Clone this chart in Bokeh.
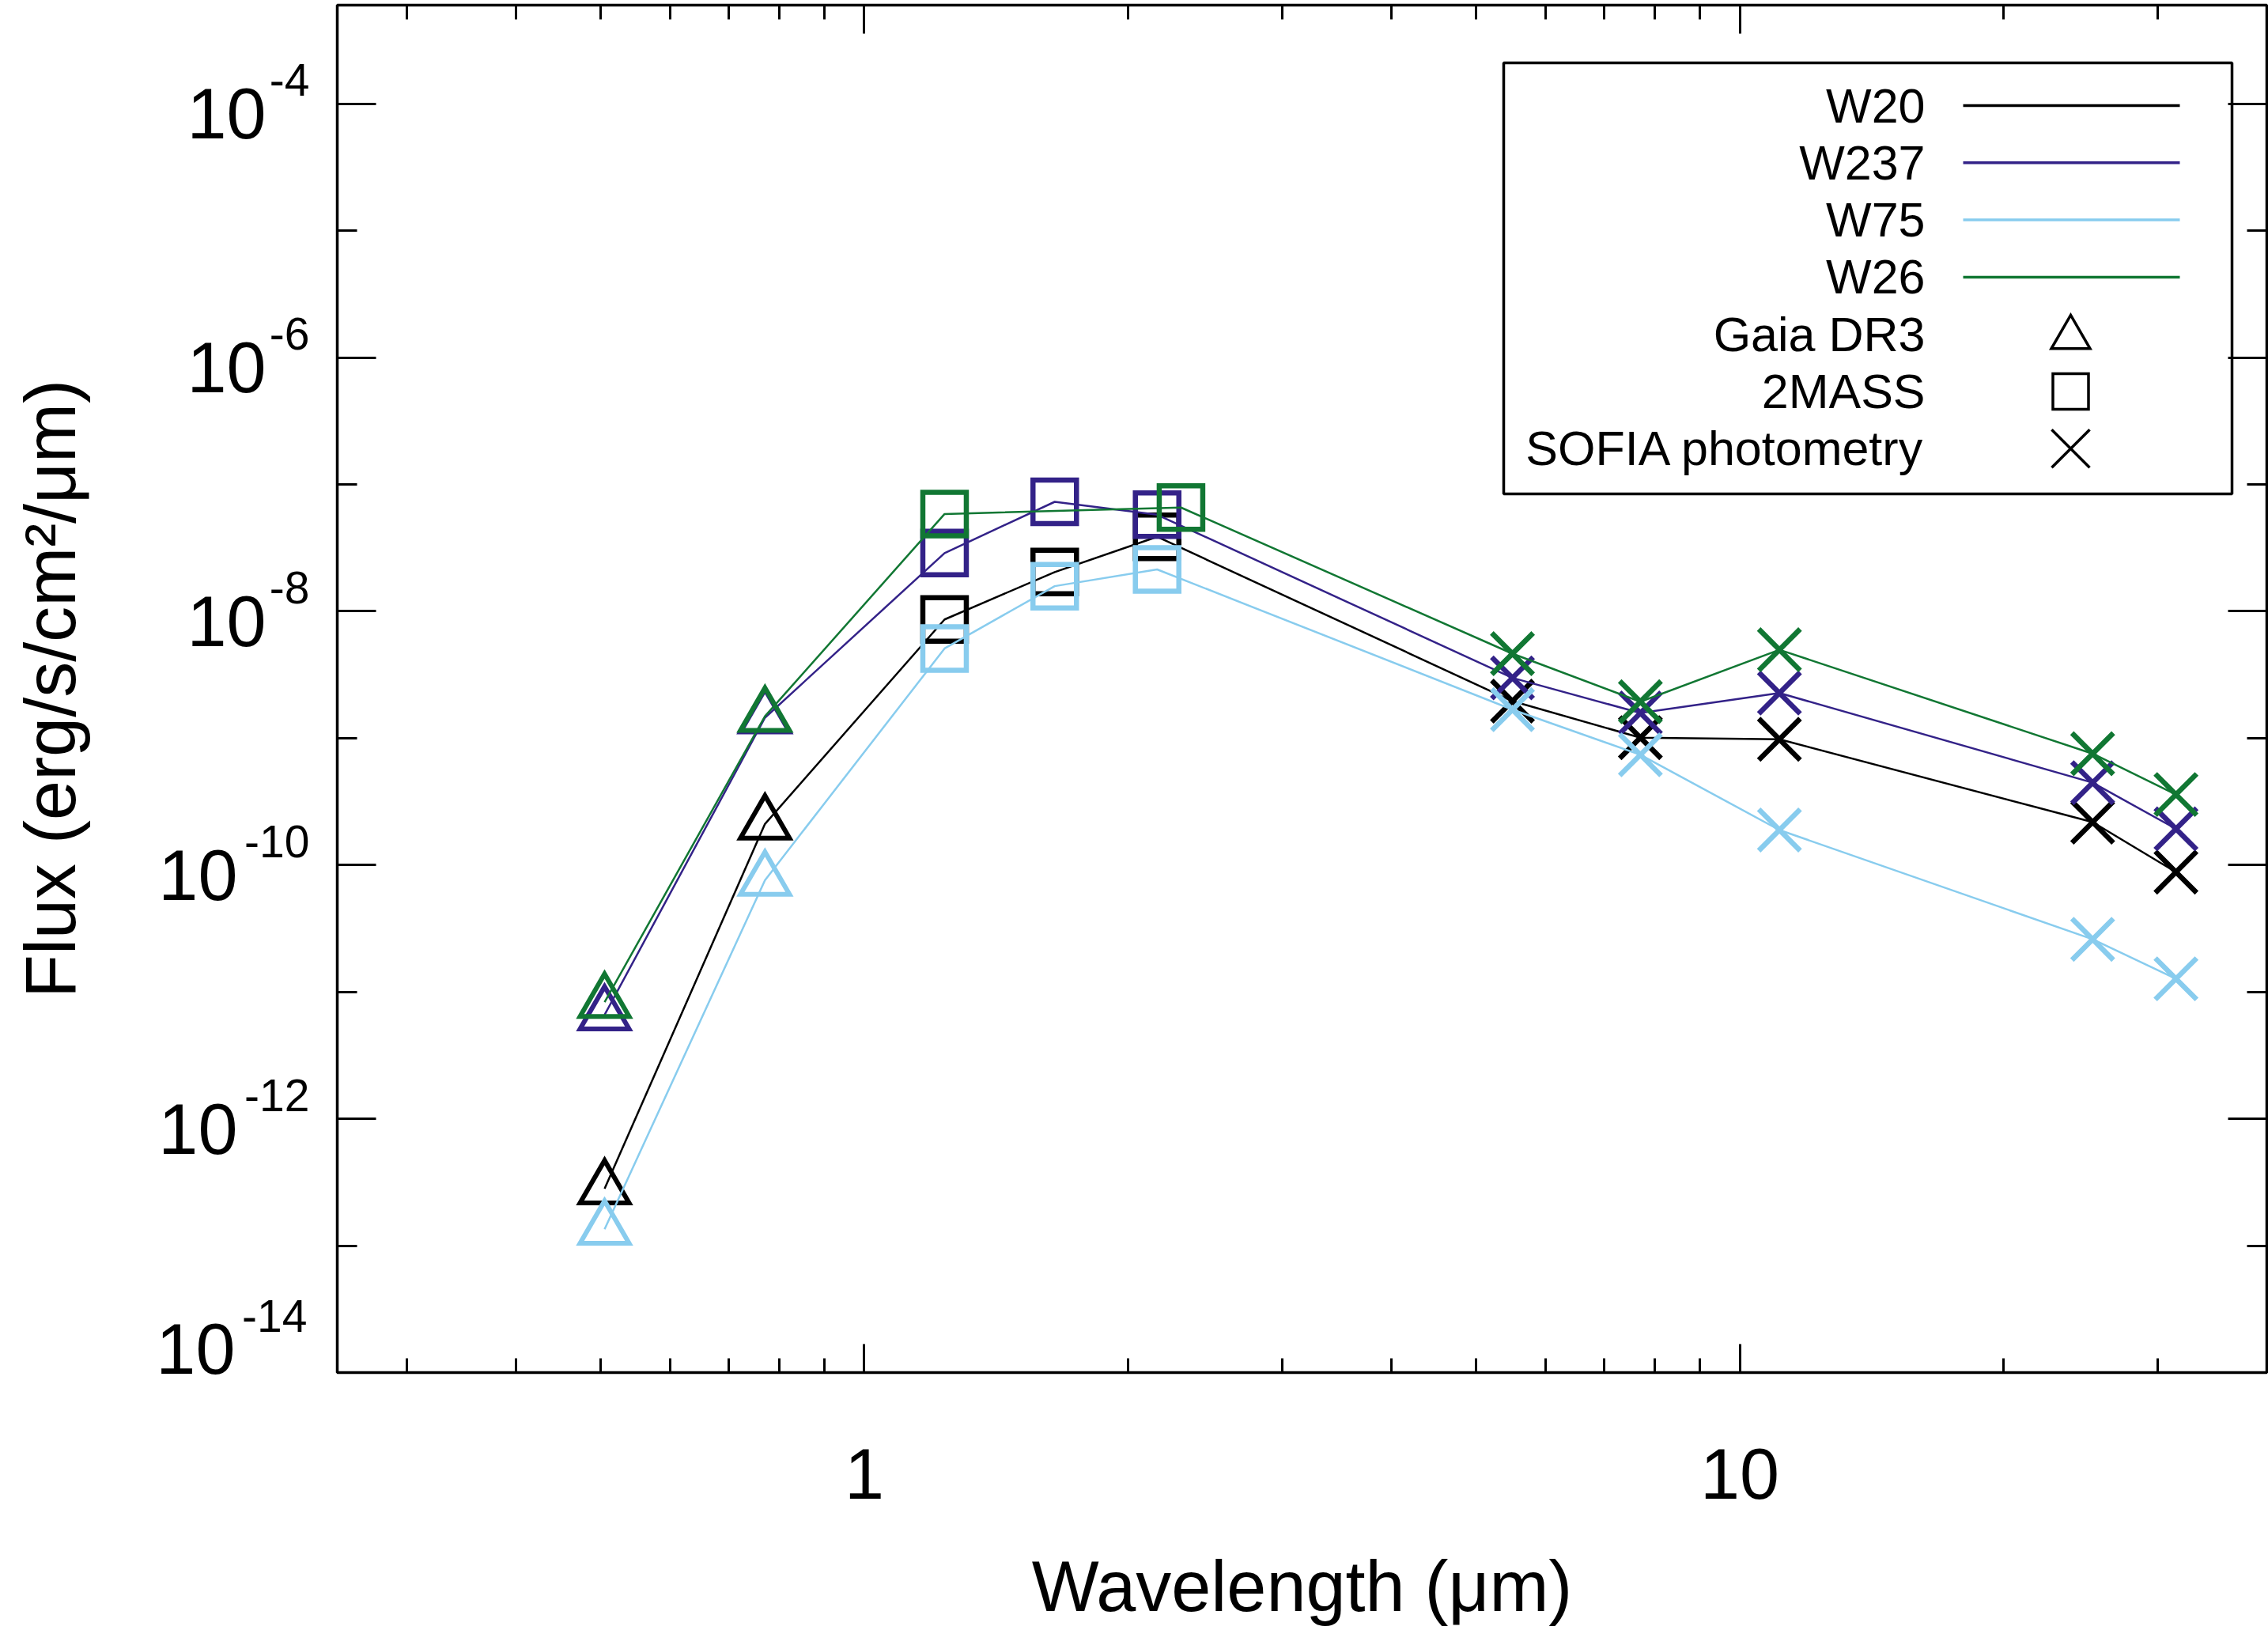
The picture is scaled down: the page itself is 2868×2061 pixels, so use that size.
import math
from bokeh.plotting import figure
from bokeh.models import Range1d, FixedTicker, LogAxis, LogScale
from bokeh.core.properties import value
from bokeh.embed import file_html
from bokeh.resources import INLINE

# ---------------- data ----------------
gaia_wl = [0.505, 0.77]
tmass_wl = [1.235, 1.65, 2.16]
tmass_wl_w26 = [1.235, 2.3]
sofia_wl = [5.5, 7.7, 11.1, 25.3, 31.5]

series_names = ["W20", "W237", "W75", "W26"]
series_colors = ["#000000", "#332288", "#88CCEE", "#117733"]

w20_gaia = [2.81e-13, 2.11e-10]
w20_2mass = [8.63e-9, 2.04e-8, 3.87e-8]
w20_sofia = [1.96e-9, 1.01e-9, 9.8e-10, 2.18e-10, 8.8e-11]

w237_gaia = [6.6e-12, 1.45e-9]
w237_2mass = [2.88e-8, 7.3e-8, 5.78e-8]
w237_sofia = [2.99e-9, 1.58e-9, 2.27e-9, 4.46e-10, 1.93e-10]

w75_gaia = [1.35e-13, 7.6e-11]
w75_2mass = [5.1e-9, 1.58e-8, 2.14e-8]
w75_sofia = [1.68e-9, 7.4e-10, 1.89e-10, 2.6e-11, 1.27e-11]

w26_gaia = [8.3e-12, 1.49e-9]
w26_2mass = [5.85e-8, 6.58e-8]
w26_sofia = [4.64e-9, 1.94e-9, 4.98e-9, 7.55e-10, 3.6e-10]

y_major = [1e-14, 1e-12, 1e-10, 1e-8, 1e-6, 1e-4]
y_major_exp = ["-14", "-12", "-10", "-8", "-6", "-4"]
y_minor = [1e-13, 1e-11, 1e-9, 1e-7, 1e-5]
x_major = [1, 10]
x_major_labels = ["1", "10"]
x_minor = [0.3, 0.4, 0.5, 0.6, 0.7, 0.8, 0.9, 2, 3, 4, 5, 6, 7, 8, 9, 20, 30]

legend_sources = ["Gaia DR3", "2MASS", "SOFIA photometry"]
legend_markers = ["triangle", "square", "x"]

series = [
    (gaia_wl, w20_gaia, tmass_wl, w20_2mass, sofia_wl, w20_sofia),
    (gaia_wl, w237_gaia, tmass_wl, w237_2mass, sofia_wl, w237_sofia),
    (gaia_wl, w75_gaia, tmass_wl, w75_2mass, sofia_wl, w75_sofia),
    (gaia_wl, w26_gaia, tmass_wl_w26, w26_2mass, sofia_wl, w26_sofia),
]

# ---------------- layout ----------------
W, H = 2868, 2061
FL, FR, FT, FB = 426, 2866, 6, 1735
XMIN, XMAX = 0.25, 40
YMIN, YMAX = 1e-14, 6e-4
FONT = "Liberation Sans"
DECADE_PX = (FB - FT) / (math.log10(YMAX) - math.log10(YMIN))

p = figure(width=W, height=H, x_axis_type="log", y_axis_type="log",
           x_range=Range1d(XMIN, XMAX), y_range=Range1d(YMIN, YMAX),
           output_backend="svg", toolbar_location=None,
           min_border_left=FL, min_border_right=W - FR,
           min_border_top=FT, min_border_bottom=H - FB)
p.grid.visible = False
p.outline_line_color = "black"
p.outline_line_width = 3.5
p.background_fill_color = "white"
p.border_fill_color = "white"


def style_axis(ax, ticks, minor, major_len, minor_len, labels=None):
    ax.ticker = FixedTicker(ticks=ticks, minor_ticks=minor)
    ax.axis_line_color = None
    ax.major_tick_in = major_len
    ax.major_tick_out = 0
    ax.minor_tick_in = minor_len
    ax.minor_tick_out = 0
    ax.major_tick_line_width = 3
    ax.minor_tick_line_width = 3
    ax.major_tick_line_color = "black"
    ax.minor_tick_line_color = "black"
    if labels is None:
        ax.major_label_overrides = {float(t): " " for t in ticks}
        ax.major_label_text_font_size = "2px"
        ax.major_label_text_alpha = 0
        ax.major_label_standoff = 0
    else:
        ax.major_label_overrides = {float(t): s for t, s in zip(ticks, labels)}
        ax.major_label_text_font = FONT
        ax.major_label_text_color = "black"


def label_axis(range_name, ticks, labels, font_px, standoff):
    ax = LogAxis(y_range_name=range_name)
    style_axis(ax, ticks, [], 0, 0, labels=labels)
    ax.major_tick_line_color = None
    ax.minor_tick_line_color = None
    ax.major_label_text_font_size = f"{font_px}px"
    ax.major_label_standoff = standoff
    return ax


# bottom axis
xb = p.below[0]
style_axis(xb, x_major, x_minor, 36, 18, labels=x_major_labels)
xb.major_label_text_font_size = "90px"
xb.major_label_standoff = 96
xb.axis_label = "Wavelength (μm)"
xb.axis_label_text_font = FONT
xb.axis_label_text_font_size = "90px"
xb.axis_label_text_font_style = "normal"
xb.axis_label_text_color = "black"
xb.axis_label_standoff = 58

# left axis: ticks only
yl = p.left[0]
style_axis(yl, y_major, y_minor, 49, 25)

# mirrored ticks on top and right
xa = LogAxis()
style_axis(xa, x_major, x_minor, 36, 18)
p.add_layout(xa, "above")
yr = LogAxis()
style_axis(yr, y_major, y_minor, 49, 25)
p.add_layout(yr, "right")

# y tick labels "10" + raised exponent; vertical offsets via shifted ranges (in px)
shifts = {"exp": 30, "exp_bottom": 72, "ten": -13, "ten_bottom": 30}
p.extra_y_ranges = {name: Range1d(YMIN / 10 ** (s / DECADE_PX), YMAX / 10 ** (s / DECADE_PX))
                    for name, s in shifts.items()}
p.extra_y_scales = {name: LogScale() for name in shifts}

EXP_PX, TEN_PX = 57, 90
EXP_W = EXP_PX * (0.333 + 2 * 0.556)
PAD = "\u2009\u2009"
ten_labels = ["10" + (PAD if len(e) > 2 else "") for e in y_major_exp]

p.add_layout(label_axis("exp", y_major[1:], y_major_exp[1:], EXP_PX, 35), "left")
p.add_layout(label_axis("exp_bottom", y_major[:1], y_major_exp[:1], EXP_PX, -round(EXP_W)), "left")
p.add_layout(label_axis("ten", y_major[1:], ten_labels[1:], TEN_PX, -33), "left")
ten_bottom = label_axis("ten_bottom", y_major[:1], ten_labels[:1], TEN_PX, -136)
ten_bottom.axis_label = "Flux (erg/s/cm²/μm)"
ten_bottom.axis_label_text_font = FONT
ten_bottom.axis_label_text_font_size = "90px"
ten_bottom.axis_label_text_font_style = "normal"
ten_bottom.axis_label_text_color = "black"
ten_bottom.axis_label_standoff = 80
p.add_layout(ten_bottom, "left")

# ---------------- data ----------------
for (gx, gy, tx, ty, sx, sy), color in zip(series, series_colors):
    xs = list(gx) + list(tx) + list(sx)
    ys = list(gy) + list(ty) + list(sy)
    p.line(xs, ys, line_color=color, line_width=2.5)
    p.scatter(gx, gy, marker="triangle", size=62, fill_color=None,
              line_color=color, line_width=6, line_join="miter")
    p.scatter(tx, ty, marker="square", size=55, fill_color=None,
              line_color=color, line_width=6.5, line_join="miter")
    p.scatter(sx, sy, marker="x", size=74, fill_color=None,
              line_color=color, line_width=6.5)

# ---------------- legend (label left, sample right) ----------------
LX0, LX1 = math.log10(XMIN), math.log10(XMAX)
LY0, LY1 = math.log10(YMIN), math.log10(YMAX)


def px_x(X):
    return 10 ** (LX0 + (X - FL) / (FR - FL) * (LX1 - LX0))


def px_y(Y):
    return 10 ** (LY1 - (Y - FT) / (FB - FT) * (LY1 - LY0))


p.quad(left=[px_x(1901)], right=[px_x(2822)], top=[px_y(79)], bottom=[px_y(624)],
       fill_color="white", line_color="black", line_width=3.5)

row_y = [133 + 72.3 * i for i in range(7)]
labels = series_names + legend_sources
p.text(x=[px_x(2434)] * 7, y=[px_y(r) for r in row_y], text=labels,
       text_font=value(FONT), text_font_size=value("61px"),
       text_align="right", text_baseline="middle", text_color="black")
for i, c in enumerate(series_colors):
    p.line([px_x(2482), px_x(2756)], [px_y(row_y[i])] * 2, line_color=c, line_width=3.5)
legend_sizes = {"triangle": 49, "square": 45, "x": 68}
for j, m in enumerate(legend_markers):
    r = row_y[4 + j] + (4 if m == "triangle" else 0)
    p.scatter([px_x(2618)], [px_y(r)], marker=m, size=legend_sizes[m],
              fill_color=None, line_color="black", line_width=3.5, line_join="miter")

open("out.html", "w").write(file_html(p, INLINE))
